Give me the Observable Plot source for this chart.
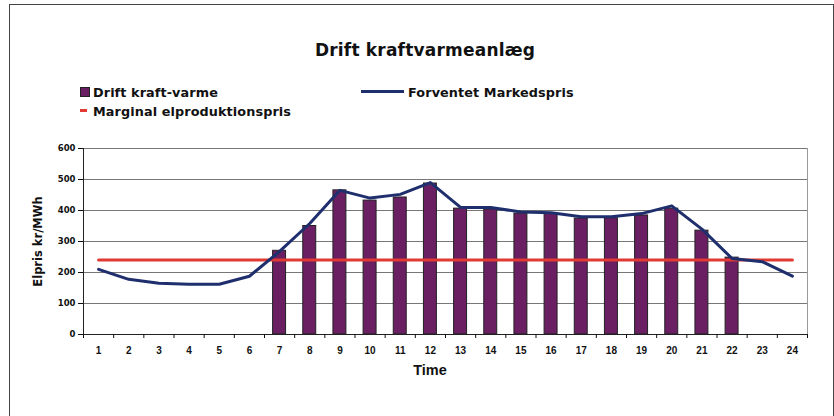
<!DOCTYPE html>
<html>
<head>
<meta charset="utf-8">
<script src="https://cdn.jsdelivr.net/npm/d3@7"></script>
<script src="https://cdn.jsdelivr.net/npm/@observablehq/plot@0.6"></script>
<style>
  html, body { margin: 0; padding: 0; background: #fff; }
  #wrap { position: relative; width: 834px; height: 416px; overflow: hidden; font-family: "DejaVu Sans", Arial, sans-serif; font-weight: bold; color: #111; }
  #frame { position: absolute; left: 9px; top: 4px; width: 825px; height: 430px; border: 1.5px solid #444; box-sizing: border-box; }
  #title { position: absolute; left: 0; width: 850px; top: 40px; text-align: center; font-size: 17px; letter-spacing: 0.2px; }
  .leg { position: absolute; font-size: 12.8px; line-height: 14px; white-space: nowrap; letter-spacing: 0.1px; }
  .sw { position: absolute; }
  #chart { position: absolute; left: 0; top: 130px; }
  #xlabel { position: absolute; left: 380px; width: 100px; top: 362px; text-align: center; font-family: "Liberation Sans", Arial, sans-serif; font-size: 14.5px; }
</style>
</head>
<body>
<div id="wrap">
  <div id="frame"></div>
  <div id="title">Drift kraftvarmeanlæg</div>
  <div class="sw" style="left:80px;top:87px;width:10px;height:10px;background:#6b1f63;border:1px solid #222;box-sizing:border-box;"></div>
  <div class="leg" style="left:93px;top:86px;">Drift kraft-varme</div>
  <div class="sw" style="left:361px;top:90px;width:43px;height:3px;background:#1f2f6e;"></div>
  <div class="leg" style="left:408px;top:86px;">Forventet Markedspris</div>
  <div class="sw" style="left:80px;top:109px;width:7px;height:3px;background:#e03a32;"></div>
  <div class="leg" style="left:93px;top:105px;">Marginal elproduktionspris</div>
  <div id="chart"></div>
  <div id="xlabel">Time</div>
</div>
<script>
const hours = [1,2,3,4,5,6,7,8,9,10,11,12,13,14,15,16,17,18,19,20,21,22,23,24];
const driftKraftVarme = [null,null,null,null,null,null,270,350,465,432,442,487,406,403,390,390,374,375,384,406,335,248,null,null];
const forventetMarkedspris = [210,178,165,162,162,188,268,358,465,440,452,490,410,410,395,393,380,380,390,415,340,245,235,188];
const marginalElpris = 240;
const yTicks = [0,100,200,300,400,500,600];

const bars = hours.map((h, i) => ({h, v: driftKraftVarme[i]})).filter(d => d.v != null);
const line = hours.map((h, i) => ({h, v: forventetMarkedspris[i]}));
const marg = hours.map(h => ({h, v: marginalElpris}));
const bounds = d3.range(0.5, 25, 1);

const chart = Plot.plot({
  width: 834,
  height: 262,
  marginLeft: 83,
  marginRight: 27,
  marginTop: 18,
  marginBottom: 58,
  style: {fontFamily: "DejaVu Sans, Arial, sans-serif", fontWeight: "bold", color: "#111", background: "transparent"},
  x: {domain: [0.5, 24.5]},
  y: {domain: [0, 600]},
  marks: [
    Plot.ruleY(yTicks.filter(t => t > 0), {stroke: "#777", strokeWidth: 1}),
    Plot.ruleX([24.5], {stroke: "#999", strokeWidth: 1}),
    Plot.rectY(bars, {x1: d => d.h - 0.215, x2: d => d.h + 0.215, y1: 0, y2: "v", fill: "#6b1f63", stroke: "#222", strokeWidth: 1}),
    Plot.line(marg, {x: "h", y: "v", stroke: "#e03a32", strokeWidth: 3}),
    Plot.line(line, {x: "h", y: "v", stroke: "#1f2f6e", strokeWidth: 3, strokeLinejoin: "round"}),
    Plot.ruleY([0], {stroke: "#222", strokeWidth: 1}),
    Plot.ruleX([0.5], {stroke: "#222", strokeWidth: 1}),
    Plot.axisY({ticks: yTicks, tickSize: 5, tickPadding: 3, fontSize: 8.5, label: "Elpris kr/MWh", labelAnchor: "center", labelOffset: 50, labelArrow: "none"}),
    Plot.axisX({ticks: bounds, tickSize: 4, tickFormat: () => "", label: null}),
    Plot.axisX({ticks: hours, tickSize: 0, tickPadding: 12, label: null})
  ]
});
chart.querySelectorAll("g[aria-label='y-axis label'] text").forEach(t => { t.setAttribute("font-size", "11.5"); });
chart.querySelectorAll("g[aria-label='x-axis tick label']").forEach(g => {
  g.setAttribute("font-size", "10");
  g.setAttribute("font-family", "Liberation Sans, Arial, sans-serif");
});
document.getElementById("chart").appendChild(chart);
</script>
</body>
</html>
